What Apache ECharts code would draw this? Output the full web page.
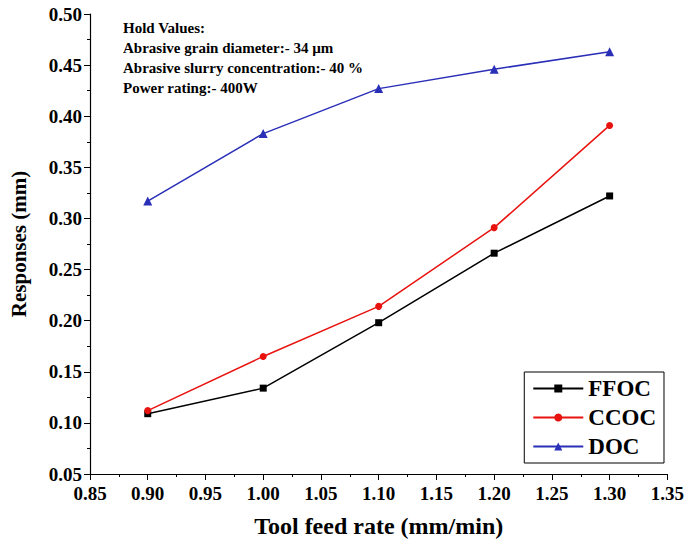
<!DOCTYPE html>
<html><head><meta charset="utf-8">
<script src="https://cdn.jsdelivr.net/npm/echarts@6/dist/echarts.min.js"></script>
<style>html,body{margin:0;padding:0;background:#fff}#c{width:687px;height:544px}</style>
</head><body><div id="c"></div>
<script>
const feedRates = [0.90, 1.00, 1.10, 1.20, 1.30];
const ffoc = [0.109, 0.134, 0.198, 0.266, 0.322];
const ccoc = [0.112, 0.165, 0.214, 0.291, 0.391];
const doc  = [0.317, 0.383, 0.427, 0.446, 0.463];
const holdLines = ['Hold Values:', 'Abrasive grain diameter:- 34 µm', 'Abrasive slurry concentration:- 40 %', 'Power rating:- 400W'];

const F = '"Liberation Serif", "Times New Roman", serif';
const chart = echarts.init(document.getElementById('c'), null, {renderer: 'svg'});
const mk = (name, data, color, symbol, size) => ({
  name, type: 'line', data: feedRates.map((x, i) => [x, data[i]]),
  symbol, symbolSize: size, showSymbol: true,
  lineStyle: {color, width: 1.5}, itemStyle: {color}, z: 3
});
const axisCommon = {
  axisLine: {show: true, lineStyle: {color: '#000', width: 1.2}},
  axisTick: {show: true, inside: false, length: 6, lineStyle: {color: '#000'}},
  minorTick: {show: true, splitNumber: 2, length: 3, lineStyle: {color: '#000'}},
  splitLine: {show: false},
  axisLabel: {color: '#000', fontFamily: F, fontWeight: 'bold', fontSize: 19, formatter: v => v.toFixed(2)},
  nameTextStyle: {color: '#000', fontFamily: F, fontWeight: 'bold', fontSize: 21}
};
chart.setOption({
  animation: false,
  backgroundColor: '#fff',
  grid: {left: 80, right: 16, top: 14, bottom: 70},
  xAxis: Object.assign({}, axisCommon, {
    type: 'value', min: 0.85, max: 1.35, interval: 0.05,
    name: 'Tool feed rate (mm/min)', nameLocation: 'middle', nameGap: 40,
    nameTextStyle: Object.assign({}, axisCommon.nameTextStyle, {fontSize: 24}),
    axisLabel: Object.assign({}, axisCommon.axisLabel, {margin: 10})
  }),
  yAxis: Object.assign({}, axisCommon, {
    type: 'value', min: 0.05, max: 0.50, interval: 0.05,
    name: 'Responses (mm)', nameLocation: 'middle', nameGap: 61,
    axisLabel: Object.assign({}, axisCommon.axisLabel, {margin: 8})
  }),
  legend: {
    orient: 'vertical', right: 23, bottom: 81,
    data: ['FFOC', 'CCOC', 'DOC'],
    borderColor: '#000', borderWidth: 1, borderRadius: 0,
    padding: [5, 8, 5, 8], itemGap: 6, itemWidth: 50, itemHeight: 10,
    textStyle: {color: '#000', fontFamily: F, fontWeight: 'bold', fontSize: 23}
  },
  graphic: [{
    type: 'text', left: 123, top: 18,
    style: {text: holdLines.join('\n'), fill: '#000', font: 'bold 15px ' + F, lineHeight: 20}
  }],
  series: [
    mk('FFOC', ffoc, '#000000', 'rect', 7),
    mk('CCOC', ccoc, '#e8130f', 'circle', 7),
    mk('DOC', doc, '#2a2fb8', 'triangle', 9)
  ]
});
</script></body></html>
